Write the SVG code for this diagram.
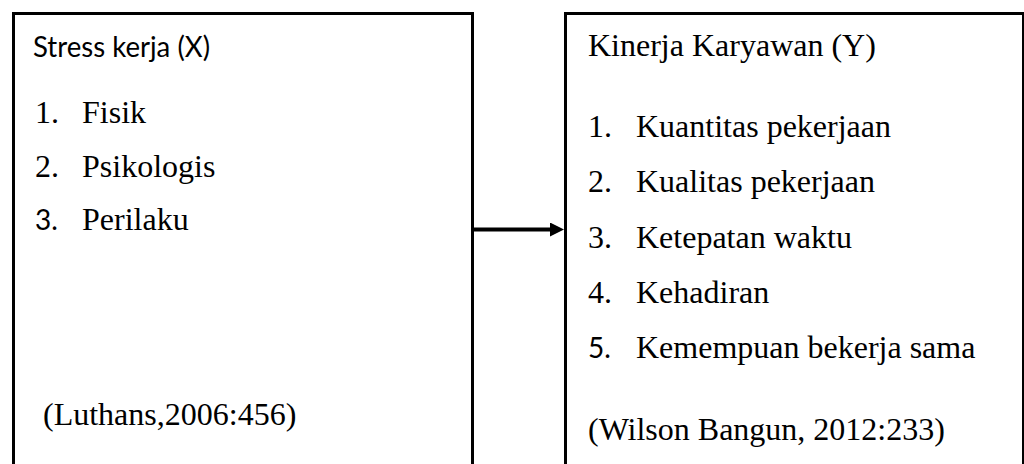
<svg xmlns="http://www.w3.org/2000/svg" width="1024" height="464" viewBox="0 0 1024 464">
<style>
.box{fill:#fff;stroke:#000;stroke-width:3}
.serif{font-family:"Liberation Serif","Times New Roman",serif;font-size:32px;fill:#000}
.sans{font-family:Lato,"Liberation Sans",sans-serif;font-size:28px;fill:#000}
.conn{stroke:#000;stroke-width:4;fill:none}
</style>
<defs>
<marker id="arrow" markerUnits="userSpaceOnUse" markerWidth="16" markerHeight="14" refX="2" refY="7" orient="auto">
<path d="M0,0 L14,7 L0,14 z" fill="#000"/>
</marker>
</defs>
<rect width="1024" height="464" fill="#fff"/>
<g id="stress-kerja">
<rect class="box" x="13.5" y="13.5" width="459" height="480"/>
<text class="sans" x="33" y="57" textLength="177" lengthAdjust="spacingAndGlyphs">Stress kerja (X)</text>
<text class="serif" x="35" y="123">1.</text>
<text class="serif" x="82" y="123">Fisik</text>
<text class="serif" x="35" y="177">2.</text>
<text class="serif" x="82" y="177">Psikologis</text>
<text class="sans" x="35" y="230">3.</text>
<text class="serif" x="82" y="230">Perilaku</text>
<text class="serif" x="43" y="425">(Luthans,2006:456)</text>
</g>
<g id="kinerja-karyawan">
<rect class="box" x="565.5" y="13.5" width="458" height="480"/>
<text class="serif" x="588" y="56">Kinerja Karyawan (Y)</text>
<text class="serif" x="588" y="137">1.</text>
<text class="serif" x="636" y="137">Kuantitas pekerjaan</text>
<text class="serif" x="588" y="192">2.</text>
<text class="serif" x="636" y="192">Kualitas pekerjaan</text>
<text class="serif" x="588" y="247.5">3.</text>
<text class="serif" x="636" y="247.5">Ketepatan waktu</text>
<text class="serif" x="588" y="303">4.</text>
<text class="serif" x="636" y="303">Kehadiran</text>
<text class="sans" x="588" y="358">5.</text>
<text class="serif" x="636" y="358">Kemempuan bekerja sama</text>
<text class="serif" x="588" y="440">(Wilson Bangun, 2012:233)</text>
</g>
<g id="connectors">
<line class="conn" x1="474" y1="229.5" x2="552" y2="229.5" marker-end="url(#arrow)"/>
</g>
</svg>
